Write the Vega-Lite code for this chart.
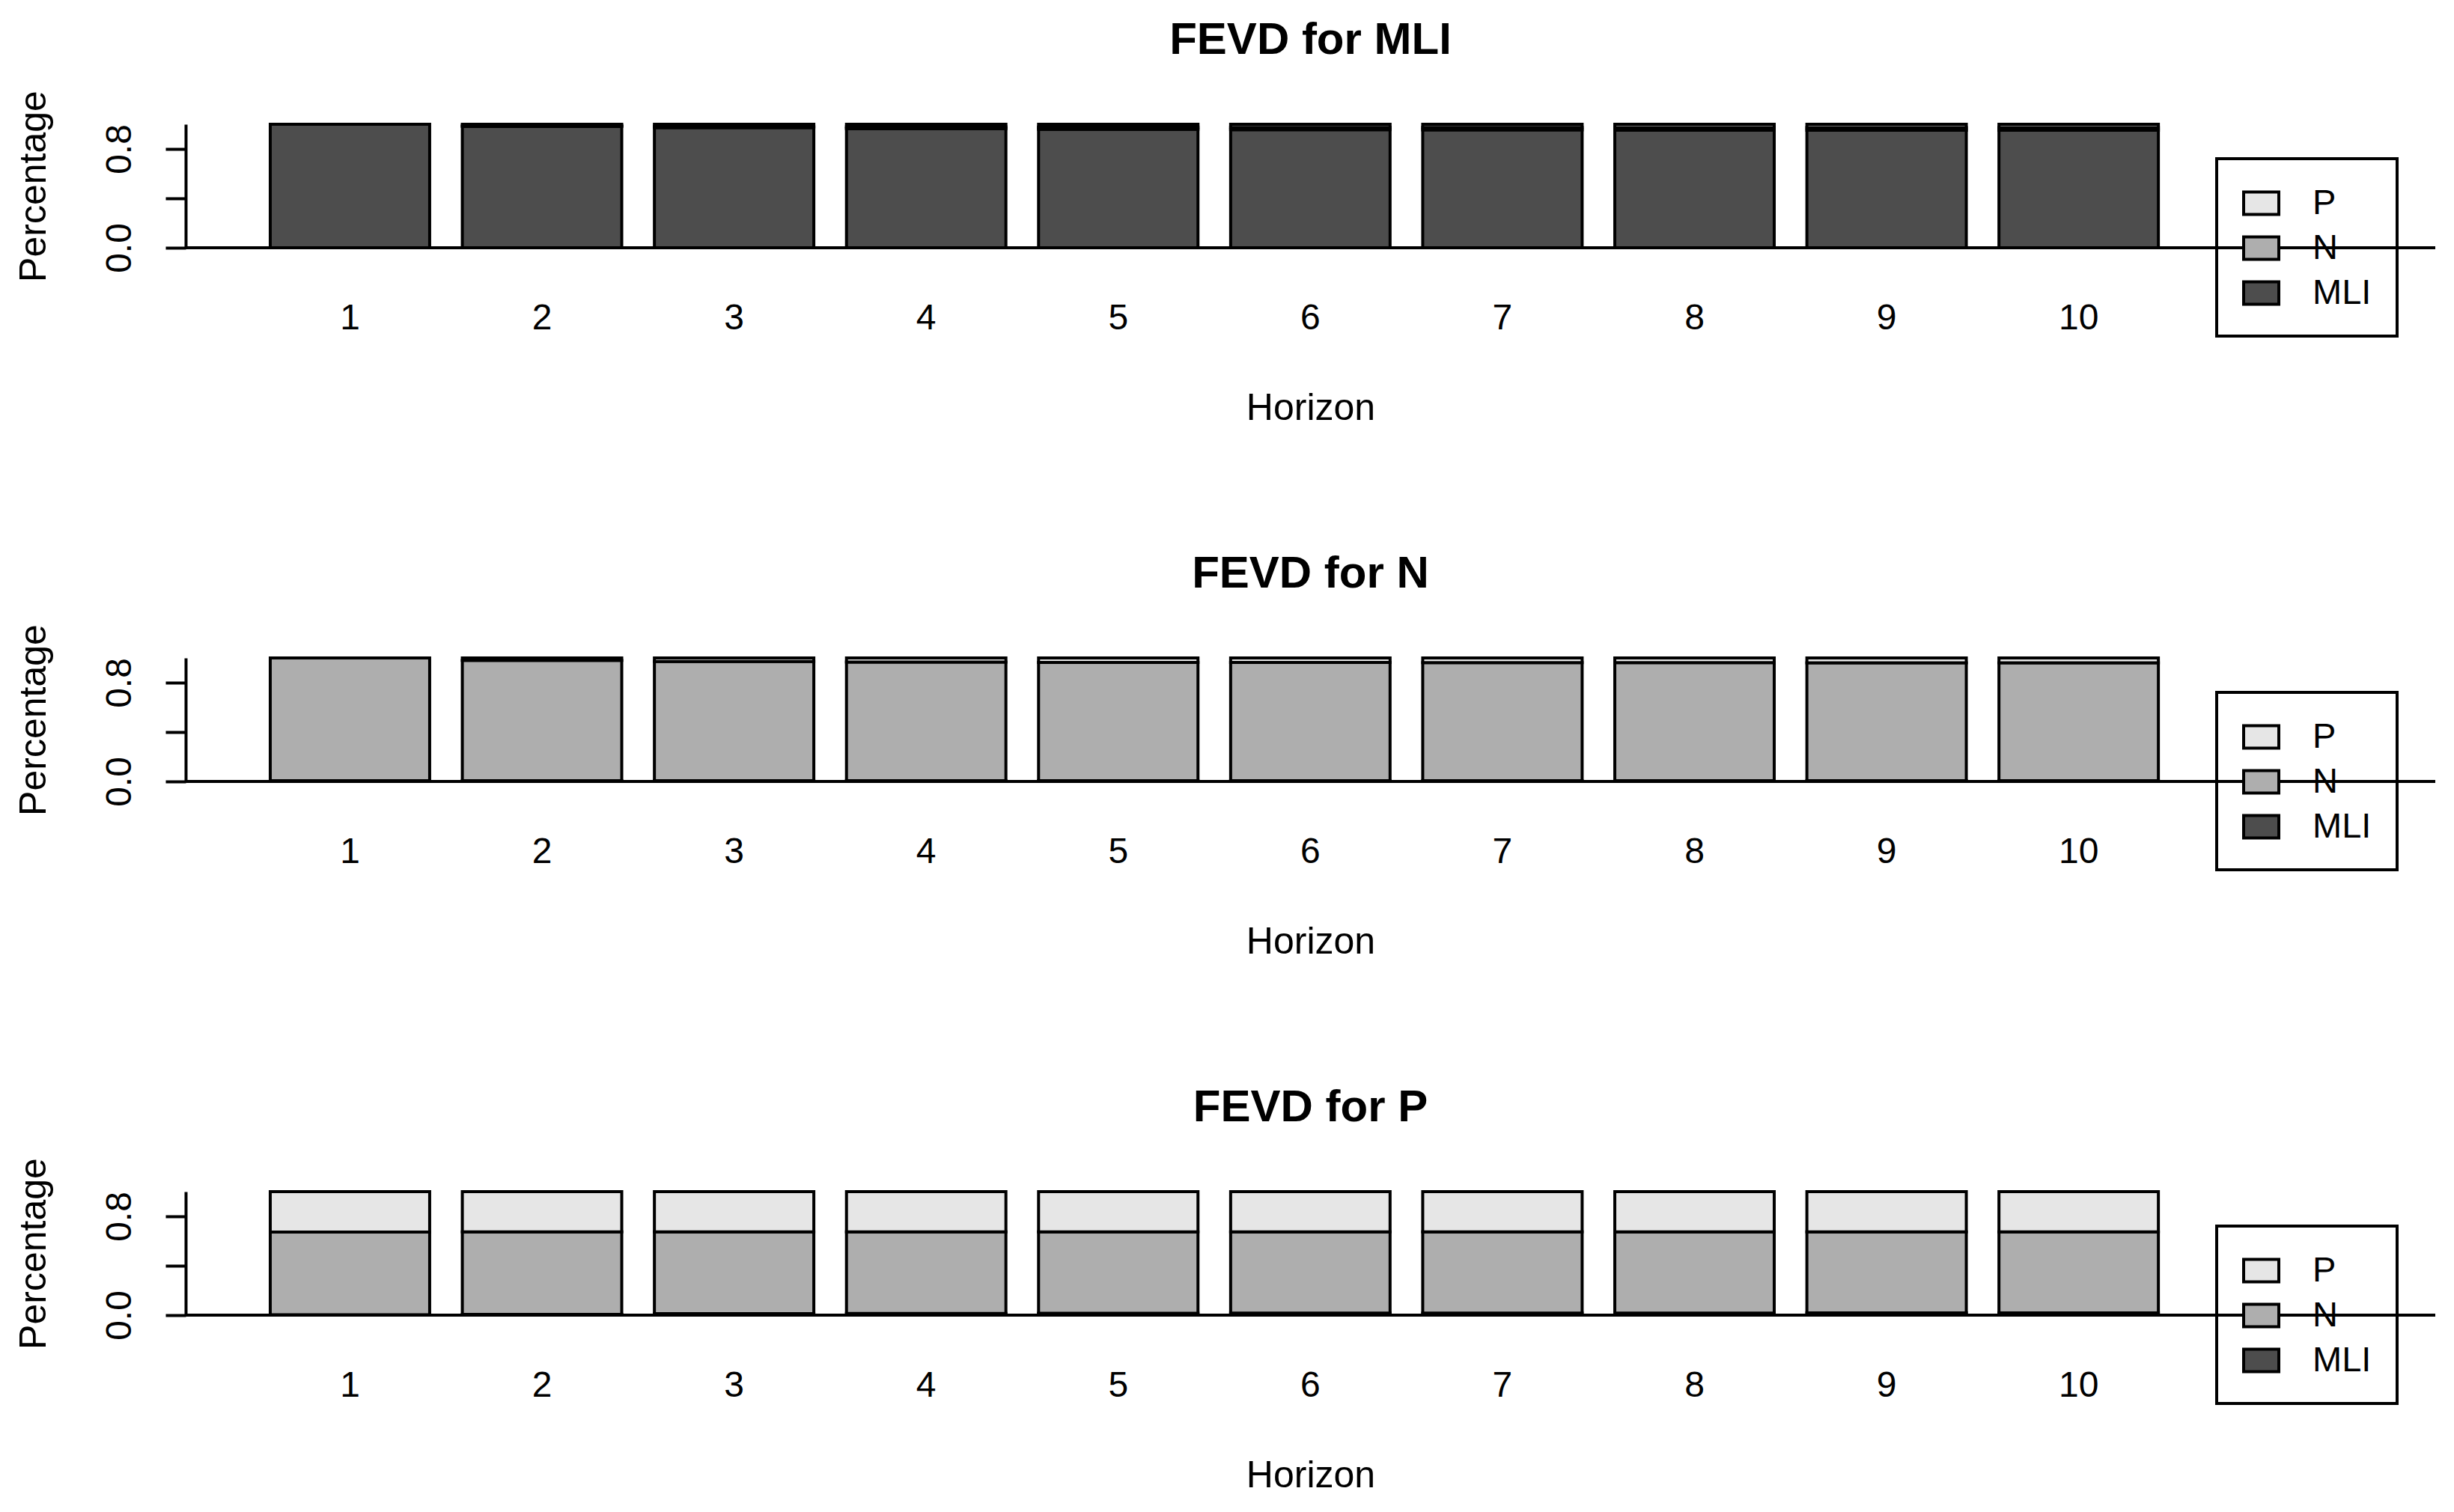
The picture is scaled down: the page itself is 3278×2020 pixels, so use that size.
{
  "$schema": "https://vega.github.io/schema/vega-lite/v6.json",
  "background": "white",
  "padding": {"left": 20, "top": 23, "right": 0, "bottom": 0},
  "config": {
    "font": "Liberation Sans",
    "view": {"stroke": null},
    "concat": {"spacing": 166},
    "axis": {"labelColor": "black", "titleColor": "black", "grid": false},
    "legend": {"strokeWidth": 4},
    "title": {"color": "black"}
  },
  "datasets": {
    "fevd": [
      {"panel": "MLI", "h": 1, "v": "MLI", "p": 1.0}, {"panel": "MLI", "h": 1, "v": "N", "p": 0.0}, {"panel": "MLI", "h": 1, "v": "P", "p": 0.0},
      {"panel": "MLI", "h": 2, "v": "MLI", "p": 0.982}, {"panel": "MLI", "h": 2, "v": "N", "p": 0.008}, {"panel": "MLI", "h": 2, "v": "P", "p": 0.01},
      {"panel": "MLI", "h": 3, "v": "MLI", "p": 0.972}, {"panel": "MLI", "h": 3, "v": "N", "p": 0.012}, {"panel": "MLI", "h": 3, "v": "P", "p": 0.016},
      {"panel": "MLI", "h": 4, "v": "MLI", "p": 0.963}, {"panel": "MLI", "h": 4, "v": "N", "p": 0.016}, {"panel": "MLI", "h": 4, "v": "P", "p": 0.021},
      {"panel": "MLI", "h": 5, "v": "MLI", "p": 0.959}, {"panel": "MLI", "h": 5, "v": "N", "p": 0.018}, {"panel": "MLI", "h": 5, "v": "P", "p": 0.023},
      {"panel": "MLI", "h": 6, "v": "MLI", "p": 0.956}, {"panel": "MLI", "h": 6, "v": "N", "p": 0.019}, {"panel": "MLI", "h": 6, "v": "P", "p": 0.025},
      {"panel": "MLI", "h": 7, "v": "MLI", "p": 0.954}, {"panel": "MLI", "h": 7, "v": "N", "p": 0.02}, {"panel": "MLI", "h": 7, "v": "P", "p": 0.026},
      {"panel": "MLI", "h": 8, "v": "MLI", "p": 0.953}, {"panel": "MLI", "h": 8, "v": "N", "p": 0.02}, {"panel": "MLI", "h": 8, "v": "P", "p": 0.027},
      {"panel": "MLI", "h": 9, "v": "MLI", "p": 0.952}, {"panel": "MLI", "h": 9, "v": "N", "p": 0.021}, {"panel": "MLI", "h": 9, "v": "P", "p": 0.027},
      {"panel": "MLI", "h": 10, "v": "MLI", "p": 0.951}, {"panel": "MLI", "h": 10, "v": "N", "p": 0.021}, {"panel": "MLI", "h": 10, "v": "P", "p": 0.028},
      {"panel": "N", "h": 1, "v": "MLI", "p": 0.006}, {"panel": "N", "h": 1, "v": "N", "p": 0.994}, {"panel": "N", "h": 1, "v": "P", "p": 0.0},
      {"panel": "N", "h": 2, "v": "MLI", "p": 0.006}, {"panel": "N", "h": 2, "v": "N", "p": 0.975}, {"panel": "N", "h": 2, "v": "P", "p": 0.019},
      {"panel": "N", "h": 3, "v": "MLI", "p": 0.006}, {"panel": "N", "h": 3, "v": "N", "p": 0.965}, {"panel": "N", "h": 3, "v": "P", "p": 0.029},
      {"panel": "N", "h": 4, "v": "MLI", "p": 0.006}, {"panel": "N", "h": 4, "v": "N", "p": 0.96}, {"panel": "N", "h": 4, "v": "P", "p": 0.034},
      {"panel": "N", "h": 5, "v": "MLI", "p": 0.006}, {"panel": "N", "h": 5, "v": "N", "p": 0.958}, {"panel": "N", "h": 5, "v": "P", "p": 0.036},
      {"panel": "N", "h": 6, "v": "MLI", "p": 0.006}, {"panel": "N", "h": 6, "v": "N", "p": 0.957}, {"panel": "N", "h": 6, "v": "P", "p": 0.037},
      {"panel": "N", "h": 7, "v": "MLI", "p": 0.006}, {"panel": "N", "h": 7, "v": "N", "p": 0.956}, {"panel": "N", "h": 7, "v": "P", "p": 0.038},
      {"panel": "N", "h": 8, "v": "MLI", "p": 0.006}, {"panel": "N", "h": 8, "v": "N", "p": 0.956}, {"panel": "N", "h": 8, "v": "P", "p": 0.038},
      {"panel": "N", "h": 9, "v": "MLI", "p": 0.006}, {"panel": "N", "h": 9, "v": "N", "p": 0.955}, {"panel": "N", "h": 9, "v": "P", "p": 0.039},
      {"panel": "N", "h": 10, "v": "MLI", "p": 0.006}, {"panel": "N", "h": 10, "v": "N", "p": 0.955}, {"panel": "N", "h": 10, "v": "P", "p": 0.039},
      {"panel": "P", "h": 1, "v": "MLI", "p": 0.003}, {"panel": "P", "h": 1, "v": "N", "p": 0.67}, {"panel": "P", "h": 1, "v": "P", "p": 0.327},
      {"panel": "P", "h": 2, "v": "MLI", "p": 0.006}, {"panel": "P", "h": 2, "v": "N", "p": 0.668}, {"panel": "P", "h": 2, "v": "P", "p": 0.326},
      {"panel": "P", "h": 3, "v": "MLI", "p": 0.012}, {"panel": "P", "h": 3, "v": "N", "p": 0.663}, {"panel": "P", "h": 3, "v": "P", "p": 0.325},
      {"panel": "P", "h": 4, "v": "MLI", "p": 0.014}, {"panel": "P", "h": 4, "v": "N", "p": 0.661}, {"panel": "P", "h": 4, "v": "P", "p": 0.325},
      {"panel": "P", "h": 5, "v": "MLI", "p": 0.015}, {"panel": "P", "h": 5, "v": "N", "p": 0.66}, {"panel": "P", "h": 5, "v": "P", "p": 0.325},
      {"panel": "P", "h": 6, "v": "MLI", "p": 0.016}, {"panel": "P", "h": 6, "v": "N", "p": 0.659}, {"panel": "P", "h": 6, "v": "P", "p": 0.325},
      {"panel": "P", "h": 7, "v": "MLI", "p": 0.017}, {"panel": "P", "h": 7, "v": "N", "p": 0.658}, {"panel": "P", "h": 7, "v": "P", "p": 0.325},
      {"panel": "P", "h": 8, "v": "MLI", "p": 0.017}, {"panel": "P", "h": 8, "v": "N", "p": 0.658}, {"panel": "P", "h": 8, "v": "P", "p": 0.325},
      {"panel": "P", "h": 9, "v": "MLI", "p": 0.018}, {"panel": "P", "h": 9, "v": "N", "p": 0.657}, {"panel": "P", "h": 9, "v": "P", "p": 0.325},
      {"panel": "P", "h": 10, "v": "MLI", "p": 0.018}, {"panel": "P", "h": 10, "v": "N", "p": 0.657}, {"panel": "P", "h": 10, "v": "P", "p": 0.325}
    ]
  },
  "resolve": {"scale": {"color": "independent"}, "legend": {"color": "independent"}},
  "vconcat": [
    {
      "width": 3005, "height": 165,
      "title": {"text": "FEVD for MLI", "fontSize": 60, "fontWeight": "bold", "offset": 36, "anchor": "middle"},
      "data": {"name": "fevd"},
      "transform": [{"filter": "datum.panel === 'MLI'"}],
      "layer": [
        {
          "mark": {"type": "bar", "stroke": "black", "strokeWidth": 4},
          "encoding": {
            "x": {"field": "h", "type": "ordinal", "scale": {"paddingInner": 0.17, "paddingOuter": 0.941, "align": 0.234},
              "axis": {"labelAngle": 0, "domain": false, "ticks": false, "tickSize": 0, "labelPadding": 70, "labelFontSize": 48, "title": "Horizon", "titleFontSize": 50, "titleFontWeight": "normal", "titlePadding": 71}},
            "y": {"field": "p", "type": "quantitative", "stack": "zero", "scale": {"domain": [0, 1], "nice": false},
              "axis": {"values": [0, 0.2, 0.4, 0.6, 0.8, 1], "labelExpr": "datum.value == 0 || datum.value == 0.8 ? format(datum.value, '.1f') : ''", "labelAngle": -90, "labelAlign": "center", "labelBaseline": "alphabetic", "tickSize": 27, "tickWidth": 4, "tickColor": "black", "domainColor": "black", "domainWidth": 4, "labelPadding": 47, "labelFontSize": 48, "title": "Percentage", "titleFontSize": 50, "titleFontWeight": "normal", "titlePadding": 66}},
            "color": {"field": "v", "type": "nominal", "scale": {"domain": ["P", "N", "MLI"], "range": ["#E6E6E6", "#AEAEAE", "#4D4D4D"]},
              "legend": {"orient": "none", "legendX": 2713, "legendY": 46, "title": null, "strokeColor": "black", "padding": 34, "symbolType": "M-1,-0.64H1V0.64H-1Z", "symbolSize": 2209, "symbolStrokeColor": "black", "symbolStrokeWidth": 4, "symbolOpacity": 1, "labelFontSize": 47, "labelOffset": 43, "rowPadding": 11, "labelColor": "black"}},
            "order": {"field": "v", "sort": "ascending"}
          }
        },
        {"data": {"values": [{}]}, "mark": {"type": "rule", "color": "black", "strokeWidth": 4}, "encoding": {"y": {"datum": 0}}}
      ]
    },
    {
      "width": 3005, "height": 165,
      "title": {"text": "FEVD for N", "fontSize": 60, "fontWeight": "bold", "offset": 36, "anchor": "middle"},
      "data": {"name": "fevd"},
      "transform": [{"filter": "datum.panel === 'N'"}],
      "layer": [
        {
          "mark": {"type": "bar", "stroke": "black", "strokeWidth": 4},
          "encoding": {
            "x": {"field": "h", "type": "ordinal", "scale": {"paddingInner": 0.17, "paddingOuter": 0.941, "align": 0.234},
              "axis": {"labelAngle": 0, "domain": false, "ticks": false, "tickSize": 0, "labelPadding": 70, "labelFontSize": 48, "title": "Horizon", "titleFontSize": 50, "titleFontWeight": "normal", "titlePadding": 71}},
            "y": {"field": "p", "type": "quantitative", "stack": "zero", "scale": {"domain": [0, 1], "nice": false},
              "axis": {"values": [0, 0.2, 0.4, 0.6, 0.8, 1], "labelExpr": "datum.value == 0 || datum.value == 0.8 ? format(datum.value, '.1f') : ''", "labelAngle": -90, "labelAlign": "center", "labelBaseline": "alphabetic", "tickSize": 27, "tickWidth": 4, "tickColor": "black", "domainColor": "black", "domainWidth": 4, "labelPadding": 47, "labelFontSize": 48, "title": "Percentage", "titleFontSize": 50, "titleFontWeight": "normal", "titlePadding": 66}},
            "color": {"field": "v", "type": "nominal", "scale": {"domain": ["P", "N", "MLI"], "range": ["#E6E6E6", "#AEAEAE", "#4D4D4D"]},
              "legend": {"orient": "none", "legendX": 2713, "legendY": 46, "title": null, "strokeColor": "black", "padding": 34, "symbolType": "M-1,-0.64H1V0.64H-1Z", "symbolSize": 2209, "symbolStrokeColor": "black", "symbolStrokeWidth": 4, "symbolOpacity": 1, "labelFontSize": 47, "labelOffset": 43, "rowPadding": 11, "labelColor": "black"}},
            "order": {"field": "v", "sort": "ascending"}
          }
        },
        {"data": {"values": [{}]}, "mark": {"type": "rule", "color": "black", "strokeWidth": 4}, "encoding": {"y": {"datum": 0}}}
      ]
    },
    {
      "width": 3005, "height": 165,
      "title": {"text": "FEVD for P", "fontSize": 60, "fontWeight": "bold", "offset": 36, "anchor": "middle"},
      "data": {"name": "fevd"},
      "transform": [{"filter": "datum.panel === 'P'"}],
      "layer": [
        {
          "mark": {"type": "bar", "stroke": "black", "strokeWidth": 4},
          "encoding": {
            "x": {"field": "h", "type": "ordinal", "scale": {"paddingInner": 0.17, "paddingOuter": 0.941, "align": 0.234},
              "axis": {"labelAngle": 0, "domain": false, "ticks": false, "tickSize": 0, "labelPadding": 70, "labelFontSize": 48, "title": "Horizon", "titleFontSize": 50, "titleFontWeight": "normal", "titlePadding": 71}},
            "y": {"field": "p", "type": "quantitative", "stack": "zero", "scale": {"domain": [0, 1], "nice": false},
              "axis": {"values": [0, 0.2, 0.4, 0.6, 0.8, 1], "labelExpr": "datum.value == 0 || datum.value == 0.8 ? format(datum.value, '.1f') : ''", "labelAngle": -90, "labelAlign": "center", "labelBaseline": "alphabetic", "tickSize": 27, "tickWidth": 4, "tickColor": "black", "domainColor": "black", "domainWidth": 4, "labelPadding": 47, "labelFontSize": 48, "title": "Percentage", "titleFontSize": 50, "titleFontWeight": "normal", "titlePadding": 66}},
            "color": {"field": "v", "type": "nominal", "scale": {"domain": ["P", "N", "MLI"], "range": ["#E6E6E6", "#AEAEAE", "#4D4D4D"]},
              "legend": {"orient": "none", "legendX": 2713, "legendY": 46, "title": null, "strokeColor": "black", "padding": 34, "symbolType": "M-1,-0.64H1V0.64H-1Z", "symbolSize": 2209, "symbolStrokeColor": "black", "symbolStrokeWidth": 4, "symbolOpacity": 1, "labelFontSize": 47, "labelOffset": 43, "rowPadding": 11, "labelColor": "black"}},
            "order": {"field": "v", "sort": "ascending"}
          }
        },
        {"data": {"values": [{}]}, "mark": {"type": "rule", "color": "black", "strokeWidth": 4}, "encoding": {"y": {"datum": 0}}}
      ]
    }
  ]
}
